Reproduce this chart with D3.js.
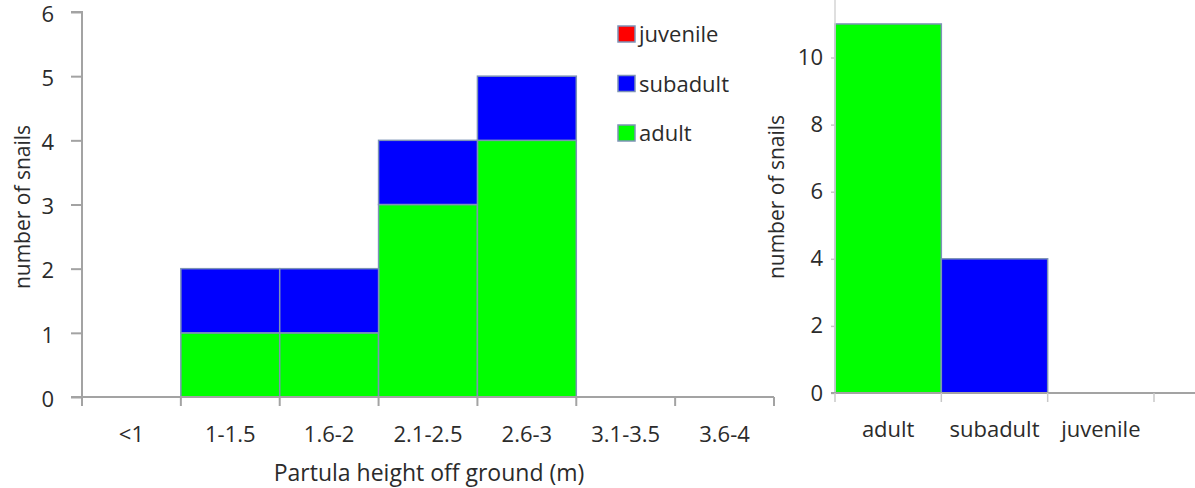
<!DOCTYPE html>
<html>
<head>
<meta charset="utf-8">
<script src="https://cdn.jsdelivr.net/npm/d3@7"></script>
<style>
  html, body { margin: 0; padding: 0; background: #fff; }
  svg { display: block; }
  text { font-family: "Open Sans", "Noto Sans", sans-serif; fill: #2b2b2b; }
</style>
</head>
<body>
<svg id="chart" width="1195" height="488"></svg>
<script>
// Height classes on the tree (m)
const heightBins = ["<1", "1-1.5", "1.6-2", "2.1-2.5", "2.6-3", "3.1-3.5", "3.6-4"];
// Snail counts per height class, by age class
const adultByHeight    = [0, 1, 1, 3, 4, 0, 0];
const subadultByHeight = [0, 1, 1, 1, 1, 0, 0];
const juvenileByHeight = [0, 0, 0, 0, 0, 0, 0];

// Totals per age class
const ageClasses = ["adult", "subadult", "juvenile"];
const ageTotals  = [11, 4, 0];

// Stack order bottom to top, and legend order top to bottom
const stackKeys  = ["adult", "subadult", "juvenile"];
const legendKeys = ["juvenile", "subadult", "adult"];
const leftTicks  = [0, 1, 2, 3, 4, 5, 6];
const rightTicks = [0, 2, 4, 6, 8, 10];

const colors = { adult: "#00ff00", subadult: "#0000ff", juvenile: "#ff0000" };
const barStroke = "#7d93b6";
const axisColor = "#a3a3a3";
const FS = 22;

const svg = d3.select("#chart");

// ---------- Left: stacked histogram by height ----------
const L = { x0: 82, x1: 774, y0: 397, y1: 12 };

const rows = heightBins.map((b, i) => ({
  bin: b,
  adult: adultByHeight[i],
  subadult: subadultByHeight[i],
  juvenile: juvenileByHeight[i]
}));

const xL = d3.scaleBand().domain(heightBins).range([L.x0, L.x1]).padding(0);
const yL = d3.scaleLinear().domain([0, 6]).range([L.y0, L.y1]);

const stacked = d3.stack().keys(stackKeys)(rows);

const gL = svg.append("g");
gL.selectAll("g.layer")
  .data(stacked)
  .join("g")
  .attr("class", "layer")
  .attr("fill", d => colors[d.key])
  .selectAll("rect")
  .data(d => d.filter(s => s[1] - s[0] > 0))
  .join("rect")
  .attr("x", s => xL(s.data.bin))
  .attr("width", xL.bandwidth())
  .attr("y", s => yL(s[1]))
  .attr("height", s => yL(s[0]) - yL(s[1]))
  .attr("stroke", barStroke)
  .attr("stroke-width", 1.5);

// y axis
const yAxisL = gL.append("g")
  .attr("transform", `translate(${L.x0},0)`)
  .call(d3.axisLeft(yL).tickValues(leftTicks).tickFormat(d3.format("d")).tickSize(11).tickPadding(17));
yAxisL.select(".domain").attr("stroke", axisColor).attr("stroke-width", 2)
  .attr("d", `M-11,${L.y1}H0V${L.y0}`);
yAxisL.selectAll(".tick line").attr("stroke", axisColor).attr("stroke-width", 2);
yAxisL.selectAll(".tick text").attr("font-size", FS).attr("fill", "#2b2b2b").attr("dy", "0.42em");

// x axis with tick marks at band boundaries
const gxL = gL.append("g").attr("transform", `translate(0,${L.y0})`);
gxL.append("line")
  .attr("x1", L.x0 - 11).attr("x2", L.x1)
  .attr("stroke", axisColor).attr("stroke-width", 2);
const boundsL = heightBins.map(b => xL(b)).concat([xL(heightBins[heightBins.length - 1]) + xL.bandwidth()]);
gxL.selectAll("line.tk").data(boundsL).join("line").attr("class", "tk")
  .attr("x1", d => d).attr("x2", d => d).attr("y1", 0).attr("y2", 9)
  .attr("stroke", axisColor).attr("stroke-width", 2);
gxL.selectAll("text").data(heightBins).join("text")
  .attr("x", d => xL(d) + xL.bandwidth() / 2)
  .attr("y", 45)
  .attr("text-anchor", "middle")
  .attr("font-size", FS)
  .text(d => d);

// axis titles
svg.append("text")
  .attr("x", 429).attr("y", 481)
  .attr("text-anchor", "middle")
  .attr("font-size", 23)
  .text("Partula height off ground (m)");
svg.append("text")
  .attr("transform", "translate(30,207) rotate(-90)")
  .attr("text-anchor", "middle")
  .attr("font-size", 21)
  .text("number of snails");

// legend
const legend = svg.append("g").attr("transform", "translate(618,26)");
const li = legend.selectAll("g").data(legendKeys).join("g")
  .attr("transform", (d, i) => `translate(0,${i * 49.5})`);
li.append("rect")
  .attr("width", 17).attr("height", 16)
  .attr("fill", d => colors[d])
  .attr("stroke", barStroke).attr("stroke-width", 1.5);
li.append("text")
  .attr("x", 21).attr("y", 16)
  .attr("font-size", FS)
  .text(d => d);

// ---------- Right: totals by age class ----------
const R = { x0: 835, x1: 1154, y0: 393 };
const xR = d3.scaleBand().domain(ageClasses).range([R.x0, R.x1]).padding(0);
const yR = d3.scaleLinear().domain([0, 12]).range([R.y0, R.y0 - 12 * 33.55]);

const gR = svg.append("g");
gR.selectAll("rect")
  .data(ageClasses.map((c, i) => ({ c, v: ageTotals[i] })).filter(d => d.v > 0))
  .join("rect")
  .attr("x", d => xR(d.c))
  .attr("width", xR.bandwidth())
  .attr("y", d => yR(d.v))
  .attr("height", d => yR(0) - yR(d.v))
  .attr("fill", d => colors[d.c])
  .attr("stroke", barStroke)
  .attr("stroke-width", 1.5);

const yAxisR = gR.append("g")
  .attr("transform", `translate(${R.x0},0)`)
  .call(d3.axisLeft(yR).tickValues(rightTicks).tickFormat(d3.format("d")).tickSize(4).tickPadding(8));
yAxisR.select(".domain").attr("stroke", "#d4d4d4").attr("stroke-width", 1.5)
  .attr("d", `M0,${yR(12)}V${R.y0}`);
yAxisR.selectAll(".tick line").attr("stroke", "#c8c8c8").attr("stroke-width", 1.5);
yAxisR.selectAll(".tick text").attr("font-size", FS).attr("fill", "#2b2b2b");

const gxR = gR.append("g").attr("transform", `translate(0,${R.y0})`);
gxR.append("line")
  .attr("x1", R.x0 - 4).attr("x2", 1195)
  .attr("stroke", axisColor).attr("stroke-width", 2);
const boundsR = ageClasses.map(c => xR(c)).concat([R.x1]);
gxR.selectAll("line.tk").data(boundsR).join("line").attr("class", "tk")
  .attr("x1", d => d).attr("x2", d => d).attr("y1", 0).attr("y2", 9)
  .attr("stroke", "#c8c8c8").attr("stroke-width", 1.5);
gxR.selectAll("text").data(ageClasses).join("text")
  .attr("x", d => xR(d) + xR.bandwidth() / 2)
  .attr("y", 44)
  .attr("text-anchor", "middle")
  .attr("font-size", FS)
  .text(d => d);

svg.append("text")
  .attr("transform", "translate(784,197) rotate(-90)")
  .attr("text-anchor", "middle")
  .attr("font-size", 21)
  .text("number of snails");
</script>
</body>
</html>
